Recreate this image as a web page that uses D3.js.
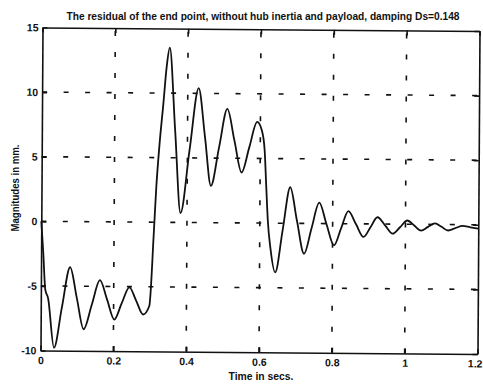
<!DOCTYPE html>
<html>
<head>
<meta charset="utf-8">
<script src="https://cdn.jsdelivr.net/npm/d3@7/dist/d3.min.js"></script>
<style>
  html, body { margin: 0; padding: 0; background: #fff; }
  svg { display: block; }
  text { font-family: "Liberation Sans", Arial, Helvetica, sans-serif; fill: #111; }
</style>
</head>
<body>
<svg id="chart" width="483" height="385"></svg>
<script>
// End-point residual (mm) against time (s)
const time = [
  0, 0.006, 0.012, 0.020, 0.037, 0.058, 0.080, 0.099, 0.118, 0.140,
  0.162, 0.182, 0.202, 0.222, 0.243, 0.262, 0.281, 0.298, 0.309, 0.315,
  0.323, 0.333, 0.342, 0.350, 0.366, 0.382, 0.406, 0.430, 0.448, 0.465,
  0.487, 0.509, 0.529, 0.549, 0.570, 0.591, 0.604, 0.612, 0.617, 0.622,
  0.630, 0.643, 0.663, 0.683, 0.702, 0.722, 0.742, 0.763, 0.783, 0.804,
  0.823, 0.843, 0.864, 0.885, 0.904, 0.923, 0.944, 0.965, 0.985, 1.005,
  1.024, 1.043, 1.062, 1.081, 1.099, 1.117, 1.137, 1.157, 1.178, 1.200
];
const residual = [
  0, -2.46, -5.26, -5.96, -9.78, -6.65, -3.54, -5.94, -8.33, -6.43,
  -4.52, -6.02, -7.56, -6.31, -5.06, -6.10, -7.15, -6.49, -0.89, 2.61,
  5.91, 9.11, 12.12, 13.52, 7.12, 0.73, 5.63, 10.40, 6.64, 2.85,
  5.85, 8.81, 6.36, 3.90, 5.87, 7.83, 7.18, 5.68, 2.88, 0.18,
  -2.02, -3.81, -0.51, 2.79, 0.20, -2.35, -0.39, 1.61, -0.03, -1.68,
  -0.38, 0.98, -0.02, -1.01, -0.26, 0.52, -0.10, -0.74, -0.24, 0.29,
  -0.10, -0.48, -0.19, 0.08, -0.18, -0.46, -0.27, -0.10, -0.20, -0.29
];

const xTicks = [0, 0.2, 0.4, 0.6, 0.8, 1, 1.2];
const xTickLabels = ["0", "0.2", "0.4", "0.6", "0.8", "1", "1.2"];
const yTicks = [-10, -5, 0, 5, 10, 15];
const yTickLabels = ["-10", "-5", "0", "5", "10", "15"];

const titleText = "The residual of the end point, without hub inertia and payload, damping Ds=0.148";
const xLabel = "Time in secs.";
const yLabel = "Magnitudes in mm.";

const svg = d3.select("#chart");
const L = 41, R = 478, T = 27, B = 350;

const x = d3.scaleLinear().domain([0, 1.2]).range([L, R]);
const y = d3.scaleLinear().domain([-10, 15]).range([B, T]);

// the printed axes sit slightly askew on the page
const plot = svg.append("g")
  .attr("transform", "matrix(1,0.008,-0.0062,1,1.667,0.172)");

// dashed grid
plot.append("g").selectAll("line")
  .data(xTicks.slice(1, -1)).join("line")
  .attr("x1", d => x(d)).attr("x2", d => x(d))
  .attr("y1", B).attr("y2", T)
  .attr("stroke", "#111").attr("stroke-width", 1.6)
  .attr("stroke-dasharray", "5,16");
plot.append("g").selectAll("line")
  .data(yTicks.slice(1, -1)).join("line")
  .attr("x1", L).attr("x2", R)
  .attr("y1", d => y(d)).attr("y2", d => y(d))
  .attr("stroke", "#111").attr("stroke-width", 1.6)
  .attr("stroke-dasharray", "5,16.5");

// axes with inward ticks on all four sides
const fmtX = (d, i) => xTickLabels[i];
const fmtY = (d, i) => yTickLabels[i];
const axB = plot.append("g").attr("transform", `translate(0,${B})`)
  .call(d3.axisBottom(x).tickValues(xTicks).tickFormat(fmtX).tickSizeInner(-5).tickSizeOuter(0).tickPadding(6));
const axT = plot.append("g").attr("transform", `translate(0,${T})`)
  .call(d3.axisTop(x).tickValues(xTicks).tickFormat("").tickSizeInner(-5).tickSizeOuter(0));
const axL = plot.append("g").attr("transform", `translate(${L},0)`)
  .call(d3.axisLeft(y).tickValues(yTicks).tickFormat(fmtY).tickSizeInner(-5).tickSizeOuter(0).tickPadding(4));
const axR = plot.append("g").attr("transform", `translate(${R},0)`)
  .call(d3.axisRight(y).tickValues(yTicks).tickFormat("").tickSizeInner(-5).tickSizeOuter(0));

[axB, axT, axL, axR].forEach(a => {
  a.select(".domain").attr("stroke", "#111").attr("stroke-width", 1.6);
  a.selectAll(".tick line").attr("stroke", "#111").attr("stroke-width", 1.6);
  a.selectAll("text").style("font-size", "10.5px").style("font-weight", "bold")
    .attr("fill", "#111");
});
// last x label hugs the right edge
axB.selectAll(".tick text").filter((d, i) => i === xTicks.length - 1)
  .attr("text-anchor", "end").attr("x", 4.5);

// residual curve
const line = d3.line()
  .x((d, i) => x(time[i]))
  .y(d => y(d))
  .curve(d3.curveMonotoneX);
plot.append("path")
  .datum(residual)
  .attr("d", line)
  .attr("fill", "none")
  .attr("stroke", "#111")
  .attr("stroke-width", 1.8)
  .attr("stroke-linejoin", "round");

// titles
svg.append("text")
  .attr("x", 263).attr("y", 20)
  .attr("text-anchor", "middle")
  .attr("textLength", 393).attr("lengthAdjust", "spacingAndGlyphs")
  .style("font-size", "10px").style("font-weight", "bold")
  .text(titleText);
svg.append("text")
  .attr("x", 261).attr("y", 380)
  .attr("text-anchor", "middle")
  .attr("textLength", 65).attr("lengthAdjust", "spacingAndGlyphs")
  .style("font-size", "10px").style("font-weight", "bold")
  .text(xLabel);
svg.append("text")
  .attr("transform", "translate(19,188) rotate(-90)")
  .attr("text-anchor", "middle")
  .attr("textLength", 87).attr("lengthAdjust", "spacingAndGlyphs")
  .style("font-size", "10.5px").style("font-weight", "bold")
  .text(yLabel);
</script>
</body>
</html>
